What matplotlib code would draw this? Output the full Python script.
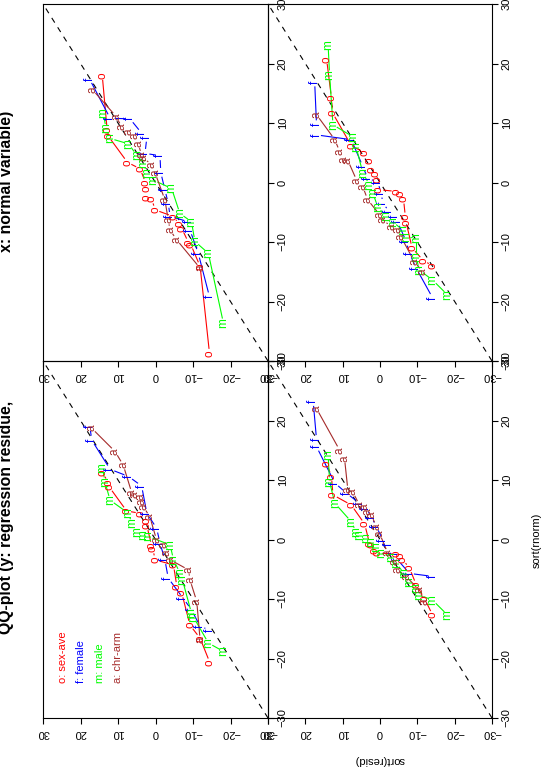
import numpy as np
import matplotlib
matplotlib.use("Agg")
from matplotlib import pyplot as plt

plt.rcParams["font.family"] = ["Liberation Sans", "DejaVu Sans"]

# the page is turned a quarter: horizontal = sort(resid) (reversed), vertical = sort(rnorm)
tick_vals = [-30, -20, -10, 0, 10, 20, 30]
series_labels = ["o: sex-ave", "f: female", "m: male", "a: chr-arm"]
series_chars = ["o", "f", "m", "a"]
series_colors = ["#ff0000", "#0000ff", "#00ff00", "#a52a2a"]
titles = ["QQ-plot (y: regression residue,", "x: normal variable)"]

# top-left panel (original layout) -- holds the legend
tl_o_norm = [11.2, 9.6, 8.8, 4.8, 4.4, 3.2, 2.3, -1.1, -1.6, -3.4, -4.3, -7.9, -9.0, -14.4, -16.6, -20.7]
tl_o_resid = [14.1, 12.6, 12.3, 7.7, 4.1, 2.5, 2.3, 1.0, 0.7, 0.1, -4.8, -5.7, -7.0, -9.2, -11.9, -14.5]
tl_f_norm = [19.0, 16.7, 11.8, 10.6, 9.0, 4.4, 1.9, -0.6, -3.4, -6.5, -9.9, -11.8, -14.6, -15.2]
tl_f_resid = [17.5, 17.0, 12.1, 7.2, 3.7, 2.3, -0.3, -1.2, -2.5, -3.4, -7.4, -9.6, -11.9, -14.4]
tl_m_norm = [12.0, 9.7, 6.6, 4.4, 2.7, 1.3, 0.8, 0.5, -0.9, -3.4, -5.6, -6.8, -12.4, -13.0, -17.4, -18.8]
tl_m_resid = [14.1, 13.5, 12.1, 7.2, 6.3, 5.0, 3.2, 1.9, -3.9, -4.8, -6.5, -7.2, -9.6, -10.1, -14.1, -18.1]
tl_a_norm = [18.7, 14.8, 12.5, 7.8, 7.5, 7.2, 6.4, 5.5, 3.8, -0.1, -0.9, -2.3, -3.4, -5.1, -6.8, -10.4, -16.9]
tl_a_resid = [17.0, 10.8, 8.6, 6.3, 5.5, 4.1, 3.7, 3.2, 1.5, -0.3, -2.1, -3.0, -3.9, -8.8, -9.2, -11.0, -11.9]

# top-right panel
tr_o_norm = [18.0, 8.9, 7.8, 3.4, 2.3, -0.1, -1.1, -2.5, -2.8, -4.6, -5.7, -7.0, -7.7, -10.1, -10.4, -14.1, -28.7]
tr_o_resid = [14.2, 12.9, 12.6, 7.5, 4.1, 2.6, 2.3, 2.5, 1.0, 0.1, -4.7, -6.4, -7.0, -8.8, -9.4, -11.9, -14.4]
tr_f_norm = [17.4, 10.8, 10.7, 8.3, 7.6, 4.9, 4.5, 1.7, -1.2, -3.5, -5.7, -6.6, -8.0, -11.9, -19.2]
tr_f_resid = [17.6, 12.1, 6.8, 3.7, 2.3, 2.8, -1.2, -1.4, -2.5, -3.4, -3.9, -8.8, -9.2, -11.4, -14.4]
tr_m_norm = [11.6, 9.1, 7.4, 6.5, 4.6, 3.2, 1.6, 0.4, -1.0, -5.2, -6.6, -9.9, -11.9, -23.6]
tr_m_resid = [13.9, 13.2, 12.1, 7.2, 5.0, 3.2, 2.3, 0.6, -4.3, -6.5, -9.6, -10.5, -14.1, -18.1]
tr_a_norm = [15.6, 11.1, 9.3, 8.6, 7.8, 6.5, 4.6, 4.1, 3.0, 1.6, -2.9, -6.3, -8.0, -9.6, -14.4]
tr_a_resid = [16.8, 10.5, 9.0, 7.2, 5.5, 4.6, 3.7, 3.2, 1.0, 0.1, -2.5, -3.4, -3.9, -5.6, -11.9]

# bottom-left panel
bl_o_norm = [12.8, 10.6, 7.5, 5.8, 2.6, -0.7, -0.9, -1.8, -2.3, -2.4, -2.7, -3.4, -4.8, -7.6, -9.9, -12.7]
bl_o_resid = [14.3, 13.0, 12.6, 7.7, 4.1, 2.8, 2.3, 1.5, 0.6, -4.3, -5.6, -6.1, -7.9, -9.7, -11.9, -14.1]
bl_f_norm = [23.2, 16.8, 15.6, 9.5, 7.8, 6.1, 5.3, 3.8, 2.2, -0.1, -0.9, -2.3, -3.4, -5.7, -6.2]
bl_f_resid = [17.9, 17.0, 17.0, 12.1, 9.0, 5.5, 3.7, 2.3, 1.0, -0.8, -2.5, -3.9, -4.7, -7.9, -14.1]
bl_m_norm = [14.2, 9.7, 6.1, 3.0, 1.3, 0.8, 0.2, -0.4, -1.2, -2.3, -2.9, -4.0, -5.7, -7.1, -8.2, -9.3, -10.2, -12.7]
bl_m_resid = [13.9, 13.5, 12.1, 7.7, 6.4, 5.5, 3.7, 2.3, 1.0, -0.3, -3.0, -4.3, -6.5, -7.9, -9.7, -10.5, -14.1, -18.1]
bl_a_norm = [22.0, 15.0, 13.6, 8.3, 8.0, 5.8, 5.5, 4.7, 4.1, 2.2, 1.0, -2.3, -3.7, -5.1, -6.2, -8.5, -10.4]
bl_a_resid = [17.0, 10.8, 9.5, 8.6, 7.3, 5.5, 4.1, 3.3, 2.3, 1.0, 0.1, -2.1, -3.9, -4.7, -7.0, -10.5, -11.9]

# bottom-right panel
br_o_norm = [20.7, 14.2, 11.7, 6.2, 5.0, 3.7, 2.1, 1.4, 0.4, -1.2, -1.5, -1.8, -2.8, -5.8, -6.7, -11.0, -13.1, -14.0]
br_o_resid = [14.3, 13.0, 12.7, 7.7, 4.1, 2.8, 2.3, 1.2, 0.8, 0.3, -4.3, -5.6, -6.3, -6.8, -7.0, -8.6, -11.6, -14.1]
br_f_norm = [16.9, 9.7, 8.0, 7.2, 2.7, 0.7, 0.1, -1.8, -3.5, -4.9, -5.7, -6.6, -9.9, -11.9, -14.4, -19.4]
br_f_resid = [17.5, 17.0, 17.0, 7.7, 4.6, 3.3, 0.6, -0.3, -0.8, -2.5, -3.9, -4.7, -7.0, -7.9, -9.7, -14.1]
br_m_norm = [23.1, 18.1, 9.7, 7.7, 6.0, 1.6, -0.4, -1.8, -4.1, -5.7, -6.6, -8.0, -9.1, -9.4, -12.5, -14.7, -16.4, -18.9]
br_m_resid = [13.9, 13.5, 12.6, 7.3, 6.4, 4.6, 2.8, 1.9, 0.6, -1.6, -3.4, -6.1, -7.0, -9.7, -9.7, -10.5, -14.1, -18.1]
br_a_norm = [11.4, 7.2, 5.2, 3.8, 3.7, 0.3, -0.7, -2.9, -5.4, -6.3, -7.4, -8.0, -9.1, -13.3, -15.0]
br_a_resid = [17.0, 12.1, 10.8, 9.9, 8.6, 6.2, 4.6, 3.3, 0.1, -0.8, -3.0, -4.7, -5.6, -9.2, -11.4]

W, H = 545, 768
fig = plt.figure(figsize=(W / 100, H / 100), dpi=100)
fig.patch.set_facecolor("white")


def add_panel(x0, x1, y0, y1):
    ax = fig.add_axes([x0 / W, 1 - y1 / H, (x1 - x0) / W, (y1 - y0) / H])
    ax.set_facecolor("none")
    ax.set_xlim(30, -30)
    ax.set_ylim(-30, 30)
    ax.set_xticks(tick_vals)
    ax.set_yticks(tick_vals)
    ax.yaxis.tick_right()
    ax.tick_params(axis="x", direction="out", length=4, width=0.8, pad=3,
                   labelsize=8, labelrotation=180)
    ax.tick_params(axis="y", direction="out", length=4, width=0.8, pad=3,
                   labelsize=8, labelrotation=90)
    for lbl in ax.get_yticklabels():
        lbl.set_va("center")
    for s in ax.spines.values():
        s.set_linewidth(0.8)
    ax.plot([-30, 30], [-30, 30], color="black", lw=0.8, ls=(0, (5, 5)))
    return ax


def draw_series(ax, resid, norm, ch, color, gap=5.0):
    # type="b": lines broken around each character
    pts = ax.transData.transform(np.column_stack([resid, norm]))
    inv = ax.transData.inverted()
    for p, q in zip(pts[:-1], pts[1:]):
        d = q - p
        length = np.hypot(d[0], d[1])
        if length <= 2 * gap:
            continue
        u = d / length
        seg = inv.transform(np.array([p + u * gap, q - u * gap]))
        ax.plot(seg[:, 0], seg[:, 1], color=color, lw=0.8)
    for r, n in zip(resid, norm):
        ax.text(r, n, ch, color=color, rotation=90, ha="center", va="center",
                fontsize=8.5)


panels = [
    (add_panel(43, 268, 361, 718), [(tl_o_resid, tl_o_norm), (tl_f_resid, tl_f_norm),
                                     (tl_m_resid, tl_m_norm), (tl_a_resid, tl_a_norm)]),
    (add_panel(43, 268, 4, 361), [(tr_o_resid, tr_o_norm), (tr_f_resid, tr_f_norm),
                                   (tr_m_resid, tr_m_norm), (tr_a_resid, tr_a_norm)]),
    (add_panel(268, 492, 361, 718), [(bl_o_resid, bl_o_norm), (bl_f_resid, bl_f_norm),
                                      (bl_m_resid, bl_m_norm), (bl_a_resid, bl_a_norm)]),
    (add_panel(268, 492, 4, 361), [(br_o_resid, br_o_norm), (br_f_resid, br_f_norm),
                                    (br_m_resid, br_m_norm), (br_a_resid, br_a_norm)]),
]

for ax, data in panels:
    for (r, n), ch, col in zip(data, series_chars, series_colors):
        draw_series(ax, r, n, ch, col)

# legend text in the top-left panel
leg_ax = panels[0][0]
for i, (lab, col) in enumerate(zip(series_labels, series_colors)):
    leg_ax.text(24.7 - 4.9 * i, -24.1, lab, color=col, rotation=90,
                ha="center", va="bottom", fontsize=8)

fig.text(7 / W, 1 - 517 / H, titles[0], rotation=90, ha="center", va="center",
         fontsize=11.4, fontweight="bold")
fig.text(7 / W, 1 - 181 / H, titles[1], rotation=90, ha="center", va="center",
         fontsize=11.4, fontweight="bold")
fig.text(537 / W, 1 - 540 / H, "sort(rnorm)", rotation=90, ha="center", va="center",
         fontsize=8)
fig.text(380 / W, 1 - 760 / H, "sort(resid)", rotation=180, ha="center", va="center",
         fontsize=8)

fig.savefig("out.png", dpi=100, facecolor="white")
